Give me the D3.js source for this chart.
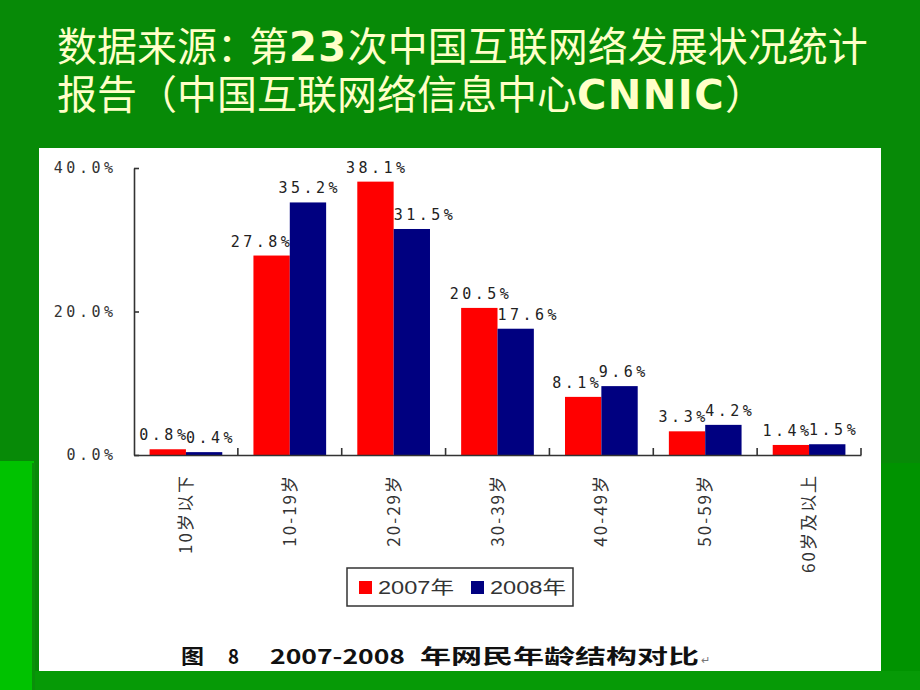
<!DOCTYPE html>
<html>
<head>
<meta charset="utf-8">
<script src="https://cdn.jsdelivr.net/npm/d3@7/dist/d3.min.js"></script>
<style>
  body { margin: 0; padding: 0; background: #078a07; }
  svg { display: block; }
</style>
</head>
<body>
<svg id="chart" width="920" height="690"></svg>
<script>
// ---- data ----
const categories = ["10岁以下", "10-19岁", "20-29岁", "30-39岁", "40-49岁", "50-59岁", "60岁及以上"];
const seriesNames = ["2007年", "2008年"];
const values2007 = [0.8, 27.8, 38.1, 20.5, 8.1, 3.3, 1.4];
const values2008 = [0.4, 35.2, 31.5, 17.6, 9.6, 4.2, 1.5];
const yTickValues = [0, 20, 40];
const titleLine1 = [["数据来源", 0], ["：", 2], ["第", 0], ["23", 1], ["次中国互联网络发展状况统计", 0]];
const titleLine2 = [["报告（中国互联网络信息中心", 0], ["CNNIC", 1], ["）", 0]];
const captionParts = ["图", "8", "2007-2008", "年网民年龄结构对比"];

const colors = { "2007年": "#ff0000", "2008年": "#000080" };

const svg = d3.select("#chart");

// ---- slide background ----
svg.append("rect").attr("x", 0).attr("y", 0).attr("width", 920).attr("height", 690).attr("fill", "#078a07");
svg.append("rect").attr("x", 0).attr("y", 461).attr("width", 34).attr("height", 229).attr("fill", "#00c200");
svg.append("rect").attr("x", 32).attr("y", 463).attr("width", 3).attr("height", 227).attr("fill", "#0a8f0a");
svg.append("rect").attr("x", 35).attr("y", 671).attr("width", 885).attr("height", 19).attr("fill", "#069a06");
svg.append("rect").attr("x", 881).attr("y", 463).attr("width", 39).attr("height", 208).attr("fill", "#009300");

// ---- title (one text element, two lines) ----
const title = svg.append("text").attr("fill", "#ffffc8");
[[titleLine1, 61], [titleLine2, 109]].forEach(([parts, yy]) => {
  parts.forEach(([s, kind], i) => {
    const bold = kind === 1;
    const ts = title.append("tspan").text(s)
      .attr("font-family", bold ? "'DejaVu Sans', sans-serif" : "'Noto Sans CJK SC', sans-serif")
      .attr("font-weight", bold ? "bold" : "normal")
      .attr("font-size", 40);
    if (bold) ts.attr("letter-spacing", "1.5px");
    if (kind === 2) ts.attr("letter-spacing", "-8px");
    if (i === 0) ts.attr("x", 57).attr("y", yy);
  });
});

// ---- white chart panel ----
svg.append("rect").attr("x", 39).attr("y", 148).attr("width", 842).attr("height", 523).attr("fill", "#ffffff");

// ---- scales ----
const x0 = d3.scaleBand().domain(categories).range([134, 861]).paddingInner(0.3).paddingOuter(0.15);
const x1 = d3.scaleBand().domain(seriesNames).range([0, x0.bandwidth()]).padding(0);
const y = d3.scaleLinear().domain([0, 40]).range([455, 168]);

const rows = categories.map((c, i) => ({ cat: c, vals: [
  { s: seriesNames[0], v: values2007[i] },
  { s: seriesNames[1], v: values2008[i] }
]}));

// ---- bars ----
const groups = svg.append("g").selectAll("g").data(rows).join("g")
  .attr("transform", d => `translate(${x0(d.cat)},0)`);
groups.selectAll("rect").data(d => d.vals).join("rect")
  .attr("x", d => x1(d.s))
  .attr("y", d => y(d.v))
  .attr("width", x1.bandwidth())
  .attr("height", d => y(0) - y(d.v))
  .attr("fill", d => colors[d.s]);

// ---- axes ----
const axisColor = "#333";
const numFont = "'DejaVu Sans Mono', monospace";
const yAxis = svg.append("g").attr("transform", "translate(134,0)")
  .call(d3.axisLeft(y).tickValues(yTickValues).tickSize(-5).tickSizeOuter(0).tickPadding(21)
    .tickFormat(d => d.toFixed(1) + "%"));
yAxis.select(".domain").attr("stroke", axisColor).attr("stroke-width", 1.6);
yAxis.selectAll(".tick line").attr("stroke", axisColor).attr("stroke-width", 1.6);
yAxis.selectAll(".tick text").attr("fill", "#333")
  .attr("font-family", numFont).attr("font-size", 15)
  .attr("letter-spacing", "3.5px").attr("dx", "3.5px");

const xAxis = svg.append("g").attr("transform", "translate(0,455)")
  .call(d3.axisBottom(x0).tickSize(0).tickSizeOuter(0).tickFormat(""));
xAxis.select(".domain").attr("stroke", axisColor).attr("stroke-width", 1.6);
// boundary ticks (pointing up) at the right edge of each category slot
const step = x0.step();
svg.append("g").selectAll("line").data(categories).join("line")
  .attr("x1", c => x0(c) + x0.bandwidth() + step * x0.paddingInner() / 2)
  .attr("x2", c => x0(c) + x0.bandwidth() + step * x0.paddingInner() / 2)
  .attr("y1", 455).attr("y2", 448)
  .attr("stroke", axisColor).attr("stroke-width", 1.6);

// rotated category labels
svg.append("g").selectAll("text").data(categories).join("text")
  .attr("transform", c => `translate(${x0(c) + x0.bandwidth() / 2},474) rotate(-90)`)
  .attr("text-anchor", "end").attr("dy", "0.36em")
  .attr("font-family", "'Noto Sans CJK SC', sans-serif").attr("font-size", 17)
  .attr("letter-spacing", "2px")
  .attr("fill", "#333")
  .text(c => c);

// ---- value labels with simple overlap avoidance ----
const labelLayer = svg.append("g");
const barBoxes = [];
rows.forEach(r => r.vals.forEach(d => {
  const bx = x0(r.cat) + x1(d.s);
  barBoxes.push({ x0: bx, x1: bx + x1.bandwidth(), y0: y(d.v), y1: y(0) });
}));
rows.forEach(r => {
  const labs = r.vals.map(d => {
    const cx = x0(r.cat) + x1(d.s) + x1.bandwidth() / 2;
    const t = labelLayer.append("text")
      .attr("font-family", numFont).attr("font-size", 15)
      .attr("letter-spacing", "3.5px").attr("fill", "#222")
      .attr("y", y(d.v) - 9)
      .text(d.v.toFixed(1) + "%");
    const w = t.node().getComputedTextLength() - 3.5;
    return { t, w, left: cx - w / 2, top: y(d.v) - 20, bottom: y(d.v) - 9, bx0: x0(r.cat) + x1(d.s), bx1: x0(r.cat) + x1(d.s) + x1.bandwidth() };
  });
  const [a, b] = labs;
  // keep labels off the neighbouring bar
  barBoxes.forEach(bb => {
    if (bb.x0 === b.bx0 && a.bottom > bb.y0 && a.left + a.w > bb.x0) a.left = bb.x0 - a.w;
    if (bb.x0 === a.bx0 && b.bottom > bb.y0 && b.left < bb.x1) b.left = bb.x1;
  });
  // separate labels that collide
  const vOverlap = a.bottom > b.top && b.bottom > a.top;
  const overlap = a.left + a.w - b.left;
  if (vOverlap && overlap > 0) { a.left -= overlap / 2; b.left += overlap / 2; }
  labs.forEach(l => l.t.attr("x", l.left));
});

// ---- legend ----
const legend = svg.append("g");
legend.append("rect").attr("x", 347).attr("y", 568).attr("width", 226).attr("height", 38)
  .attr("fill", "#fff").attr("stroke", "#333").attr("stroke-width", 1.5);
const legendX = [359, 471];
seriesNames.forEach((s, i) => {
  legend.append("rect").attr("x", legendX[i]).attr("y", 581).attr("width", 13).attr("height", 13)
    .attr("fill", colors[s]);
  legend.append("text").attr("x", legendX[i] + 19).attr("y", 594)
    .attr("font-family", "'Liberation Sans', 'Noto Sans CJK SC', sans-serif").attr("font-size", 18)
    .attr("textLength", 76).attr("lengthAdjust", "spacingAndGlyphs")
    .attr("fill", "#333").text(s);
});

// ---- caption ----
const capX = [181, 228, 270, 420];
const capW = [23, 11, 135, 279];
const cap = svg.append("text").attr("y", 664)
  .attr("font-family", "'Noto Sans CJK SC', sans-serif").attr("font-weight", "bold")
  .attr("font-size", 20).attr("fill", "#111");
captionParts.forEach((p, i) => {
  cap.append("tspan").attr("x", capX[i]).attr("textLength", capW[i])
    .attr("lengthAdjust", "spacingAndGlyphs").text(p);
});
cap.append("tspan").attr("x", 701).attr("font-size", 11).attr("font-weight", "normal")
  .attr("fill", "#777").text("↵");
</script>
</body>
</html>
